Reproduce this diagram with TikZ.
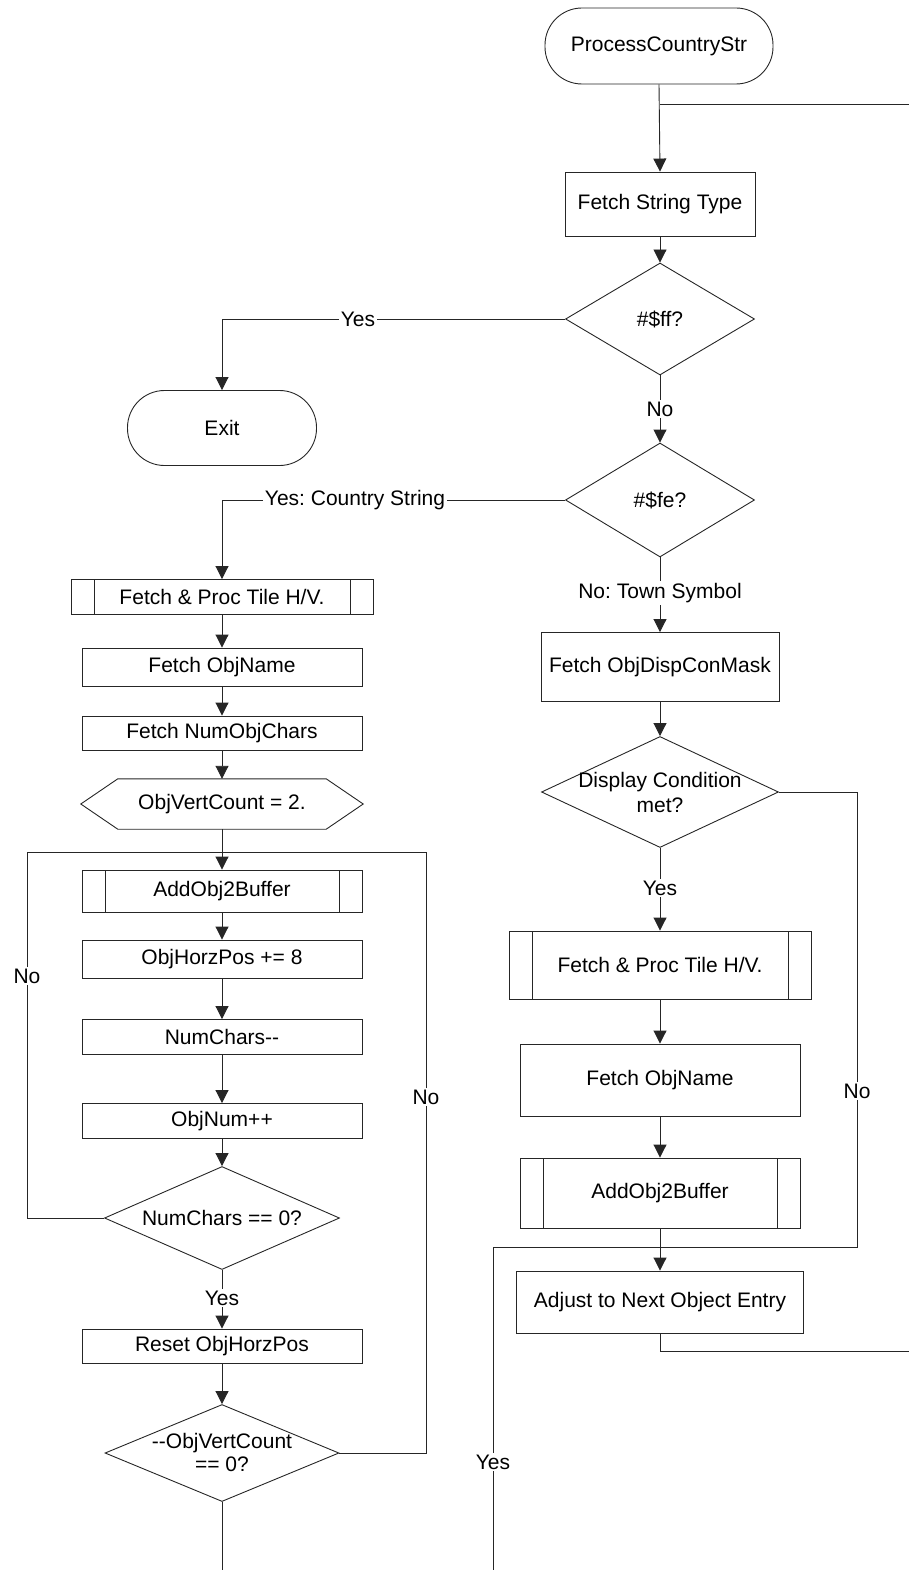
\documentclass[tikz,border=0pt]{standalone}
\usepackage{fontspec}
\newfontfamily\lsans{Liberation Sans}
\usetikzlibrary{arrows.meta,shapes.geometric}
\frenchspacing
\begin{document}
\begin{tikzpicture}[x=1pt,y=-1pt,
  every node/.style={font=\lsans\fontsize{21}{25}\selectfont\frenchspacing, align=center, inner sep=0pt},
  line/.style={draw=black!85, line width=0.9pt},
  arr/.style={line, -{Triangle[width=13pt,length=13pt]}},
  procbox/.style={rectangle, draw=black!85, line width=0.9pt},
  termbox/.style={rectangle, rounded corners=37pt, draw=black!85, line width=0.9pt},
  subrbox/.style={procbox, path picture={
      \draw[line] ([xshift=23pt]path picture bounding box.north west) -- ([xshift=23pt]path picture bounding box.south west);
      \draw[line] ([xshift=-23pt]path picture bounding box.north east) -- ([xshift=-23pt]path picture bounding box.south east);}},
  dia/.style={diamond, draw=black!85, line width=0.9pt},
  lbl/.style={fill=white, inner sep=2pt}
]
\useasboundingbox (0,0) rectangle (909,1570);

% right column
\node[termbox, minimum width=228pt, minimum height=76pt] (start) at (659,46) {ProcessCountryStr};
\node[procbox, minimum width=190pt, minimum height=64pt] (fst) at (660,204) {Fetch String Type};
\node[dia, minimum width=189pt, minimum height=112pt] (dff) at (660,319) {};
\node at (dff) {\#\$ff?};
\node[dia, minimum width=189pt, minimum height=114pt] (dfe) at (660,500) {};
\node at (dfe) {\#\$fe?};
\node[procbox, minimum width=238pt, minimum height=69pt] (rmask) at (660,667) {Fetch ObjDispConMask};
\node[dia, minimum width=237pt, minimum height=111pt] (ddisp) at (660,792) {};
\node at (ddisp) {Display Condition\\met?};
\node[subrbox, minimum width=302pt, minimum height=68pt] (rtile) at (660,965) {Fetch \& Proc Tile H/V.};
\node[procbox, minimum width=280pt, minimum height=72pt] (rname) at (660,1080) {Fetch ObjName};
\node[subrbox, minimum width=280pt, minimum height=70pt] (radd) at (660,1193) {AddObj2Buffer};
\node[procbox, minimum width=287pt, minimum height=62pt] (adj) at (660,1302) {Adjust to Next Object Entry};

% left column
\node[termbox, minimum width=189pt, minimum height=75pt] (exit) at (222,428) {Exit};
\node[subrbox, minimum width=302pt, minimum height=35pt] (ltile) at (222,597) {Fetch \& Proc Tile H/V.};
\node[procbox, minimum width=280pt, minimum height=38pt] (lname) at (222,667) {Fetch ObjName};
\node[procbox, minimum width=280pt, minimum height=34pt] (lnum) at (222,733) {Fetch NumObjChars};
\node[minimum width=282pt, minimum height=50pt] (hex) at (222,804) {ObjVertCount = 2.};
\draw[line] (hex.west) -- ([xshift=37pt]hex.north west) -- ([xshift=-37pt]hex.north east) -- (hex.east) -- ([xshift=-37pt]hex.south east) -- ([xshift=37pt]hex.south west) -- cycle;
\node[subrbox, minimum width=280pt, minimum height=42pt] (ladd) at (222,891) {AddObj2Buffer};
\node[procbox, minimum width=280pt, minimum height=38pt] (lhpos) at (222,959) {ObjHorzPos += 8};
\node[procbox, minimum width=280pt, minimum height=35pt] (lnc) at (222,1037) {NumChars-{}-};
\node[procbox, minimum width=280pt, minimum height=35pt] (lon) at (222,1121) {ObjNum++};
\node[dia, minimum width=235pt, minimum height=103pt] (dnc) at (222,1218) {};
\node at (dnc) {NumChars == 0?};
\node[procbox, minimum width=280pt, minimum height=34pt] (lreset) at (222,1346) {Reset ObjHorzPos};
\node[dia, minimum width=234pt, minimum height=97pt] (dvc) at (222,1453) {};
\node[font=\lsans\fontsize{21}{23}\selectfont] at ([yshift=1pt]dvc.center) {-{}-ObjVertCount\\== 0?};

% coordinates
\coordinate (j1) at (660,104);
\coordinate (e1) at (909,104);
\coordinate (loopj) at (222,852);
\coordinate (lc1) at (27,1218);
\coordinate (lc2) at (27,852);
\coordinate (rc1) at (426,1453);
\coordinate (rc2) at (426,852);
\coordinate (bot1) at (222,1570);
\coordinate (nd1) at (857,792);
\coordinate (nd2) at (857,1247);
\coordinate (mj) at (660,1247);
\coordinate (yb1) at (493,1570);
\coordinate (yb2) at (493,1247);
\coordinate (aj) at (660,1351);
\coordinate (e2) at (909,1351);

% connectors
\draw[arr] (start.south) -- (fst.north);
\draw[line] (j1) -- (e1);
\draw[arr] (fst.south) -- (dff.north);
\draw[arr] (dff.west) -| (exit.north);
\node[lbl] at (358,319) {Yes};
\draw[arr] (dff.south) -- (dfe.north);
\node[lbl] at (660,409) {No};
\draw[arr] (dfe.west) -| (ltile.north);
\node[lbl] at (355,500) {Yes: Country String};
\draw[arr] (dfe.south) -- (rmask.north);
\node[lbl] at (660,593) {No: Town Symbol};

\draw[arr] (ltile.south) -- (lname.north);
\draw[arr] (lname.south) -- (lnum.north);
\draw[arr] (lnum.south) -- (hex.north);
\draw[arr] (hex.south) -- (ladd.north);
\draw[arr] (ladd.south) -- (lhpos.north);
\draw[arr] (lhpos.south) -- (lnc.north);
\draw[arr] (lnc.south) -- (lon.north);
\draw[arr] (lon.south) -- (dnc.north);
\draw[line] (dnc.west) -- (lc1) -- (lc2) -- (loopj);
\node[lbl] at (27,976) {No};
\draw[arr] (dnc.south) -- (lreset.north);
\node[lbl] at (222,1298) {Yes};
\draw[arr] (lreset.south) -- (dvc.north);
\draw[line] (dvc.east) -- (rc1) -- (rc2) -- (loopj);
\node[lbl] at (426,1097) {No};
\draw[line] (dvc.south) -- (bot1);

\draw[arr] (rmask.south) -- (ddisp.north);
\draw[arr] (ddisp.south) -- (rtile.north);
\node[lbl] at (660,888) {Yes};
\draw[arr] (rtile.south) -- (rname.north);
\draw[arr] (rname.south) -- (radd.north);
\draw[arr] (radd.south) -- (adj.north);
\draw[line] (ddisp.east) -- (nd1) -- (nd2) -- (mj);
\node[lbl] at (857,1091) {No};
\draw[line] (yb1) -- (yb2) -- (mj);
\node[lbl] at (493,1462) {Yes};
\draw[line] (adj.south) -- (aj) -- (e2);
\end{tikzpicture}
\end{document}
